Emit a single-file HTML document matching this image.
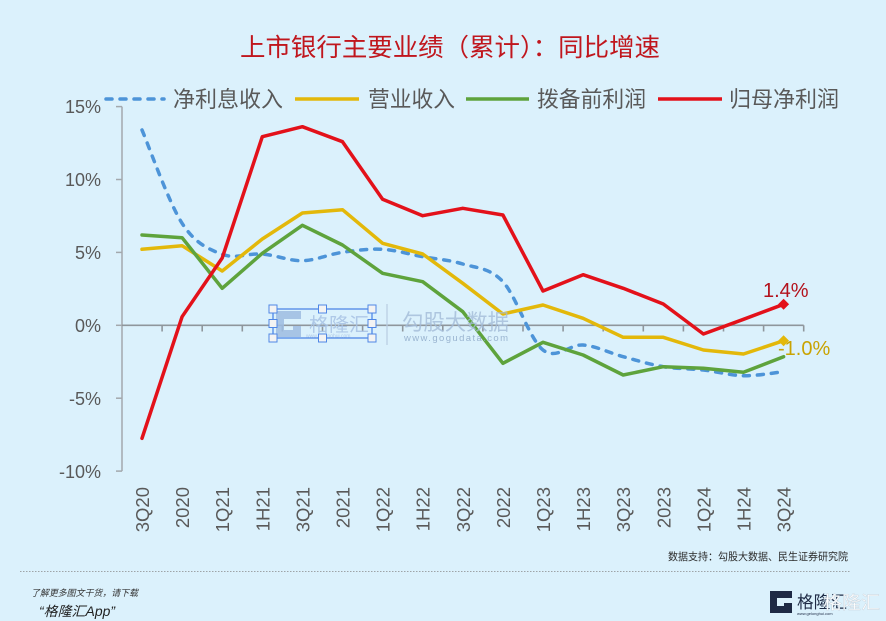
<!DOCTYPE html>
<html>
<head>
<meta charset="utf-8">
<style>
  html,body{margin:0;padding:0;background:#dbf1fc;}
  svg{display:block;}
  text{font-family:"Liberation Sans","Noto Sans CJK SC",sans-serif;}
  .cjk{font-family:"Liberation Sans","Noto Sans CJK SC",sans-serif;}
</style>
</head>
<body>
<svg width="886" height="621" viewBox="0 0 886 621" xmlns="http://www.w3.org/2000/svg">
  <rect x="0" y="0" width="886" height="621" fill="#dbf1fc"/>

  <!-- Title -->
  <text x="240" y="56" font-size="25" fill="#c0161d" textLength="420" lengthAdjust="spacingAndGlyphs" class="cjk">上市银行主要业绩（累计）：同比增速</text>

  <!-- Legend -->
  <g stroke-width="3.5" fill="none">
    <line x1="106" y1="99" x2="164" y2="99" stroke="#4d94d8" stroke-dasharray="6 8" stroke-linecap="round"/>
    <line x1="295" y1="99" x2="359" y2="99" stroke="#e3b80a"/>
    <line x1="466" y1="99" x2="529" y2="99" stroke="#5ea33c"/>
    <line x1="658" y1="99" x2="722" y2="99" stroke="#e3111a"/>
  </g>
  <g font-size="22" fill="#595959" class="cjk">
    <text x="173" y="107" textLength="110" lengthAdjust="spacingAndGlyphs">净利息收入</text>
    <text x="368" y="107" textLength="87" lengthAdjust="spacingAndGlyphs">营业收入</text>
    <text x="537" y="107" textLength="109" lengthAdjust="spacingAndGlyphs">拨备前利润</text>
    <text x="729" y="107" textLength="110" lengthAdjust="spacingAndGlyphs">归母净利润</text>
  </g>

  <!-- Y axis -->
  <g stroke="#a3a8ad" stroke-width="1.5" fill="none">
    <line x1="122" y1="106.6" x2="122" y2="471.1"/>
    <line x1="116" y1="106.6" x2="122" y2="106.6"/>
    <line x1="116" y1="179.5" x2="122" y2="179.5"/>
    <line x1="116" y1="252.4" x2="122" y2="252.4"/>
    <line x1="116" y1="325.3" x2="122" y2="325.3"/>
    <line x1="116" y1="398.2" x2="122" y2="398.2"/>
    <line x1="116" y1="471.1" x2="122" y2="471.1"/>
  </g>
  <g font-size="18" fill="#595959" text-anchor="end">
    <text x="101" y="113">15%</text>
    <text x="101" y="186">10%</text>
    <text x="101" y="259">5%</text>
    <text x="101" y="332">0%</text>
    <text x="101" y="405">-5%</text>
    <text x="101" y="478">-10%</text>
  </g>

  <!-- X axis (0%) -->
  <g stroke="#8f969c" stroke-width="1.6" fill="none">
    <line x1="122" y1="325.3" x2="803.7" y2="325.3"/>
    <line x1="162.1" y1="325.3" x2="162.1" y2="331.5"/>
    <line x1="202.2" y1="325.3" x2="202.2" y2="331.5"/>
    <line x1="242.3" y1="325.3" x2="242.3" y2="331.5"/>
    <line x1="282.4" y1="325.3" x2="282.4" y2="331.5"/>
    <line x1="322.5" y1="325.3" x2="322.5" y2="331.5"/>
    <line x1="362.6" y1="325.3" x2="362.6" y2="331.5"/>
    <line x1="402.7" y1="325.3" x2="402.7" y2="331.5"/>
    <line x1="442.8" y1="325.3" x2="442.8" y2="331.5"/>
    <line x1="482.9" y1="325.3" x2="482.9" y2="331.5"/>
    <line x1="523.0" y1="325.3" x2="523.0" y2="331.5"/>
    <line x1="563.1" y1="325.3" x2="563.1" y2="331.5"/>
    <line x1="603.2" y1="325.3" x2="603.2" y2="331.5"/>
    <line x1="643.3" y1="325.3" x2="643.3" y2="331.5"/>
    <line x1="683.4" y1="325.3" x2="683.4" y2="331.5"/>
    <line x1="723.5" y1="325.3" x2="723.5" y2="331.5"/>
    <line x1="763.6" y1="325.3" x2="763.6" y2="331.5"/>
    <line x1="803.7" y1="325.3" x2="803.7" y2="331.5"/>
  </g>

  <!-- X labels -->
  <g font-size="18.5" fill="#595959" text-anchor="end">
    <text transform="translate(149,487) rotate(-90)">3Q20</text>
    <text transform="translate(189.1,487) rotate(-90)">2020</text>
    <text transform="translate(229.2,487) rotate(-90)">1Q21</text>
    <text transform="translate(269.3,487) rotate(-90)">1H21</text>
    <text transform="translate(309.4,487) rotate(-90)">3Q21</text>
    <text transform="translate(349.5,487) rotate(-90)">2021</text>
    <text transform="translate(389.6,487) rotate(-90)">1Q22</text>
    <text transform="translate(429.7,487) rotate(-90)">1H22</text>
    <text transform="translate(469.8,487) rotate(-90)">3Q22</text>
    <text transform="translate(509.9,487) rotate(-90)">2022</text>
    <text transform="translate(550,487) rotate(-90)">1Q23</text>
    <text transform="translate(590.1,487) rotate(-90)">1H23</text>
    <text transform="translate(630.2,487) rotate(-90)">3Q23</text>
    <text transform="translate(670.3,487) rotate(-90)">2023</text>
    <text transform="translate(710.4,487) rotate(-90)">1Q24</text>
    <text transform="translate(750.5,487) rotate(-90)">1H24</text>
    <text transform="translate(790.6,487) rotate(-90)">3Q24</text>
  </g>

  <!-- Series -->
  <g fill="none" stroke-width="3.5" stroke-linejoin="round" stroke-linecap="round">
    <path stroke="#4d94d8" stroke-dasharray="6 8" d="M142,130 C148.68,145.55 168.73,202.58 182.1,223.3 C195.47,244.02 208.83,249.18 222.2,254.3 C235.57,259.42 248.93,252.93 262.3,254 C275.67,255.07 289.03,260.98 302.4,260.7 C315.77,260.42 329.13,254.2 342.5,252.3 C355.87,250.4 369.23,248.57 382.6,249.3 C395.97,250.03 409.33,254.25 422.7,256.7 C436.07,259.15 449.43,259.83 462.8,264 C476.17,268.17 489.53,267.37 502.9,281.7 C516.27,296.03 529.63,339.45 543,350 C556.37,360.55 569.73,343.88 583.1,345 C596.47,346.12 609.83,353.08 623.2,356.7 C636.57,360.32 649.93,364.48 663.3,366.7 C676.67,368.92 690.03,368.5 703.4,370 C716.77,371.5 730.13,375.42 743.5,375.7 C756.87,375.98 776.92,372.37 783.6,371.7"/>
    <path stroke="#e3b80a" d="M142,249.3 L182.1,245.7 L222.2,271 L262.3,239 L302.4,213 L342.5,209.7 L382.6,243.3 L422.7,254 L462.8,283.3 L502.9,314 L543,305 L583.1,318.3 L623.2,337.3 L663.3,337.3 L703.4,350 L743.5,354 L783.6,340.7"/>
    <path stroke="#5ea33c" d="M142,235 L182.1,237.7 L222.2,288.3 L262.3,253.3 L302.4,225.3 L342.5,245 L382.6,273.3 L422.7,281.7 L462.8,311.7 L502.9,363.3 L543,342.3 L583.1,355 L623.2,375 L663.3,366.7 L703.4,368.3 L743.5,372.3 L783.6,356.7"/>
    <path stroke="#e3111a" d="M142,438.3 L182.1,316.7 L222.2,258 L262.3,136.7 L302.4,126.7 L342.5,141.7 L382.6,199.3 L422.7,215.7 L462.8,208.3 L502.9,215 L543,291 L583.1,274.7 L623.2,288.3 L663.3,304 L703.4,334 L743.5,319.3 L783.6,304.3"/>
  </g>
  <!-- markers -->
  <path d="M783.6,298.8 L789.1,304.3 L783.6,309.8 L778.1,304.3 Z" fill="#e3111a"/>
  <path d="M783.6,335.2 L789.1,340.7 L783.6,346.2 L778.1,340.7 Z" fill="#e3b80a"/>

  <!-- data labels -->
  <text x="763" y="297" font-size="20" fill="#b3121c">1.4%</text>
  <text x="778" y="355" font-size="20" fill="#c9a302">-1.0%</text>

  <!-- Watermark: 格隆汇 selection box -->
  <g opacity="0.85">
    <path d="M276,311 h25 v8 h-17 v11 h9 v-4 h8 v11 h-25 z" fill="#9fbde2"/>
    <text x="309" y="331" font-size="19" fill="#a7c2e4" class="cjk" textLength="60" lengthAdjust="spacingAndGlyphs">格隆汇</text>
    <text x="306" y="337.5" font-size="5" fill="#a7c2e4">www.gelonghui.com</text>
  </g>
  <rect x="273" y="309" width="99" height="29" fill="none" stroke="#4f87e6" stroke-width="1.3"/>
  <g fill="#f3f3f3" stroke="#4f87e6" stroke-width="1">
    <rect x="269" y="305" width="8" height="8"/>
    <rect x="318.5" y="305" width="8" height="8"/>
    <rect x="368" y="305" width="8" height="8"/>
    <rect x="269" y="319.5" width="8" height="8"/>
    <rect x="368" y="319.5" width="8" height="8"/>
    <rect x="269" y="334" width="8" height="8"/>
    <rect x="318.5" y="334" width="8" height="8"/>
    <rect x="368" y="334" width="8" height="8"/>
  </g>
  <!-- Watermark: 勾股大数据 -->
  <line x1="387" y1="304" x2="387" y2="345" stroke="#b9cde2" stroke-width="1.2"/>
  <g opacity="0.8">
    <text x="402" y="330" font-size="22" fill="#a4bcd8" class="cjk" textLength="107" lengthAdjust="spacingAndGlyphs">勾股大数据</text>
    <text x="404" y="341" font-size="9.5" fill="#8aa6c6" textLength="104" lengthAdjust="spacing">www.gogudata.com</text>
  </g>

  <!-- Source -->
  <text x="668" y="560" font-size="10.5" fill="#2b2b2b" class="cjk" textLength="180" lengthAdjust="spacingAndGlyphs">数据支持：勾股大数据、民生证券研究院</text>

  <!-- Dashed separator -->
  <line x1="20" y1="571.5" x2="851" y2="571.5" stroke="#8a8a8a" stroke-width="0.8" stroke-dasharray="1.5 1.5"/>

  <!-- Footer left -->
  <text x="31" y="596" font-size="9" fill="#333" font-style="italic" class="cjk" textLength="107" lengthAdjust="spacingAndGlyphs">了解更多图文干货，请下载</text>
  <text x="39" y="616" font-size="13.5" fill="#222" font-style="italic" class="cjk" textLength="76" lengthAdjust="spacingAndGlyphs">“格隆汇App”</text>

  <!-- Footer right logo -->
  <path d="M770,591 h22 v7 h-15 v8 h7 v-3 h8 v10 h-22 z" fill="#1e2a45"/>
  <text x="797" y="608" font-size="17" fill="#1e2a45" class="cjk" textLength="50" lengthAdjust="spacingAndGlyphs">格隆汇</text>
  <text x="797" y="615" font-size="4" fill="#1e2a45">www.gelonghui.com</text>
  <text x="823" y="609" font-size="18" fill="#ffffff" stroke="#c8d2dc" stroke-width="0.4" class="cjk" textLength="57" lengthAdjust="spacingAndGlyphs">格隆汇</text>
</svg>
</body>
</html>
